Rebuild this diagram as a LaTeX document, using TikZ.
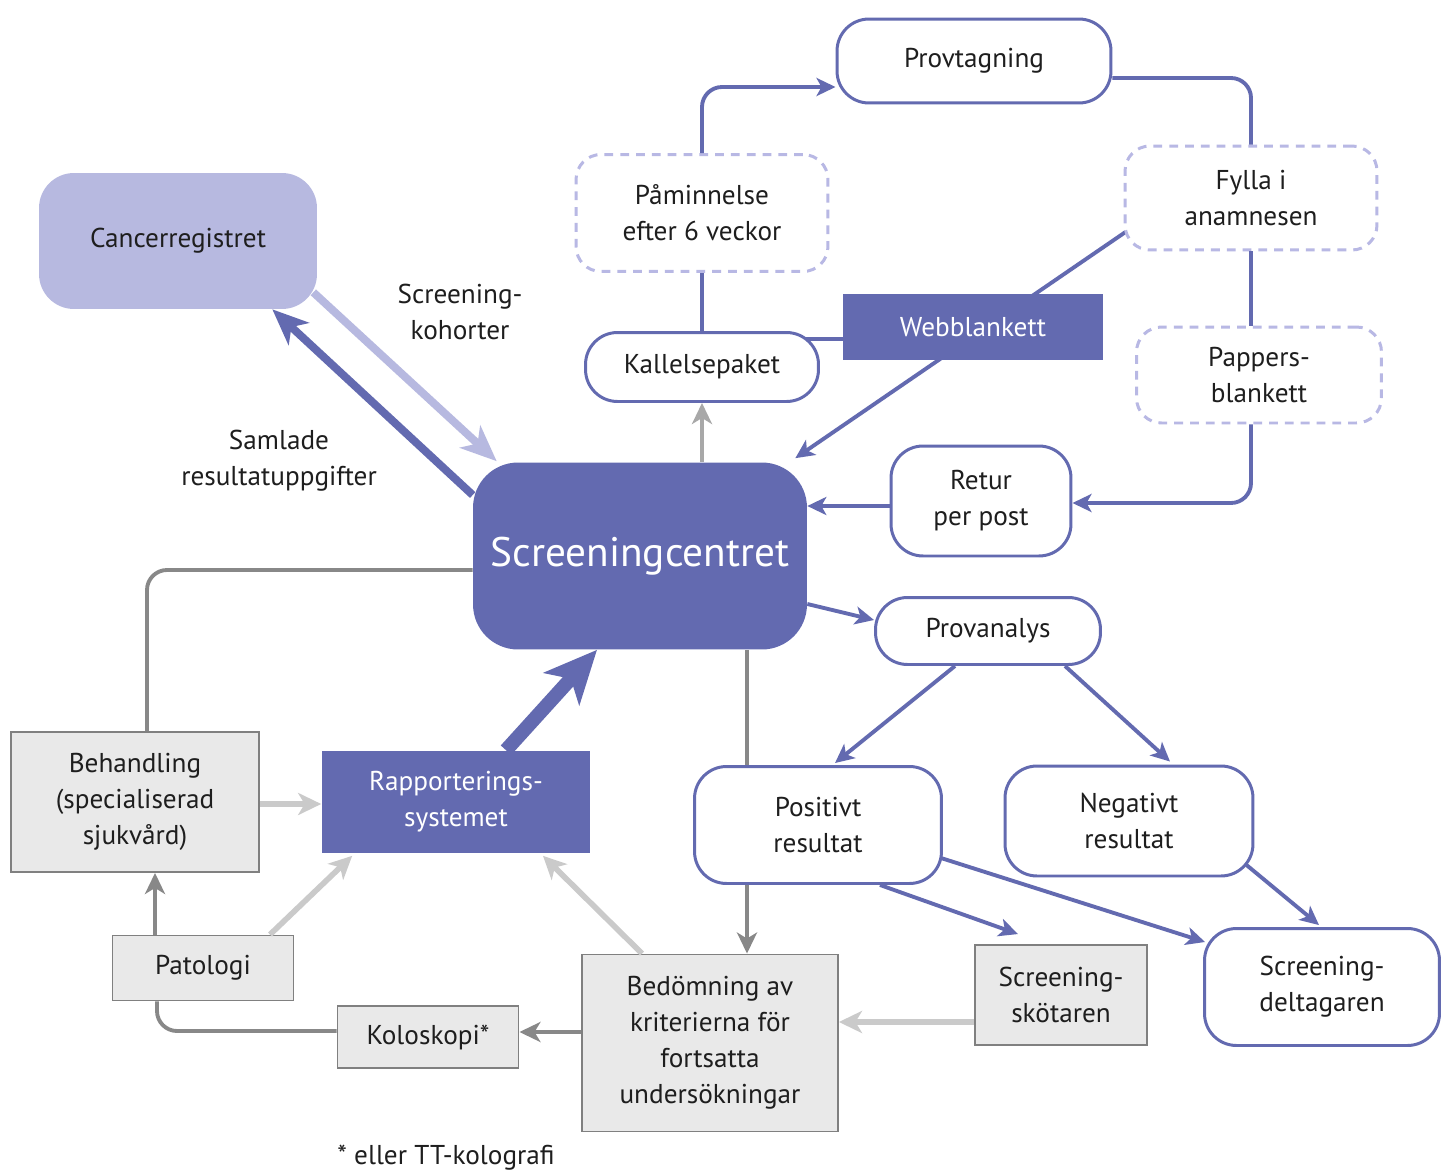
\documentclass[tikz,border=0pt]{standalone}
\usepackage{fontspec}
\setmainfont{PT Sans}
\usetikzlibrary{arrows.meta, positioning, backgrounds, calc}
\definecolor{scblue}{RGB}{99,106,176}
\definecolor{lav}{RGB}{183,185,224}
\definecolor{dashc}{RGB}{184,184,228}
\definecolor{gfill}{RGB}{233,233,233}
\definecolor{boxgray}{RGB}{128,128,128}
\definecolor{dgray}{RGB}{136,136,136}
\definecolor{mgray}{RGB}{168,168,168}
\definecolor{lgray}{RGB}{202,202,202}
\definecolor{txt}{RGB}{30,30,30}

\begin{document}
\begin{tikzpicture}[x=0.02cm, y=-0.02cm,
  every node/.style={font=\fontsize{15.5}{20.5}\selectfont, text=txt, align=center, inner sep=0pt},
  rbox/.style={draw=scblue, line width=1.7pt, fill=white, rounded corners=0.64cm},
  dbox/.style={draw=dashc, line width=1.7pt, dash pattern=on 5pt off 4pt, fill=white, rounded corners=0.5cm},
  bbox/.style={fill=scblue, text=white},
  gbox/.style={draw=boxgray, line width=1.1pt, fill=gfill},
  bl/.style={scblue, line width=2.2pt},
  blarr/.style={bl, -{Stealth[length=0.38cm, width=0.36cm, inset=0.1cm]}},
  dline/.style={dgray, line width=2.2pt},
  darr/.style={dline, -{Stealth[length=0.42cm, width=0.4cm, inset=0.12cm]}},
  larr/.style={lgray, line width=3.2pt, -{Stealth[length=0.46cm, width=0.44cm, inset=0.13cm]}}
]
\useasboundingbox (0,0) rectangle (1441,1173);
% Top loop
\node[rbox, minimum width=5.48cm, minimum height=1.68cm](prov) at (974,61){Provtagning};
\node[dbox, minimum width=5.04cm, minimum height=2.34cm](pam) at (702,213){Påminnelse\\efter 6 veckor};
\node[dbox, minimum width=5.04cm, minimum height=2.08cm](fyl) at (1251,198){Fylla i\\anamnesen};
\node[dbox, minimum width=4.9cm, minimum height=1.92cm](pap) at (1259,375){Pappers-\\blankett};
\node[rbox, minimum width=4.66cm, minimum height=1.38cm](kal) at (702,367){Kallelsepaket};
\node[bbox, minimum width=5.2cm, minimum height=1.34cm](web) at (973,327){Webblankett};
\node[rbox, minimum width=3.6cm, minimum height=2.2cm](ret) at (981,501){Retur\\per post};
% Centre and register
\node[fill=lav, rounded corners=0.7cm, minimum width=5.56cm, minimum height=2.72cm](cr) at (178,241){Cancerregistret};
\node[fill=scblue, text=white, rounded corners=0.9cm, minimum width=6.68cm, minimum height=3.74cm,
  font=\fontsize{23.5}{28}\selectfont](sc) at (640,556){Screeningcentret};
\node(koh) at (460,312){Screening-\\kohorter};
\node(sam) at (279,461){Samlade\\resultatuppgifter};
% Results
\node[rbox, minimum width=4.5cm, minimum height=1.34cm](pa) at (988,631){Provanalys};
\node[rbox, minimum width=4.94cm, minimum height=2.34cm](pos) at (818,825){Positivt\\resultat};
\node[rbox, minimum width=4.96cm, minimum height=2.2cm](neg) at (1129,821){Negativt\\resultat};
\node[rbox, minimum width=4.7cm, minimum height=2.34cm](del) at (1322,987){Screening-\\deltagaren};
% Follow-up
\node[gbox, minimum width=3.44cm, minimum height=2cm](sko) at (1061,995){Screening-\\skötaren};
\node[gbox, minimum width=5.12cm, minimum height=3.54cm](bed) at (710,1043){Bedömning av\\kriterierna för\\fortsatta\\undersökningar};
\node[gbox, minimum width=3.62cm, minimum height=1.24cm](kol) at (428,1037){Koloskopi*};
\node[gbox, minimum width=3.62cm, minimum height=1.3cm](pat) at (203,968){Patologi};
\node[gbox, minimum width=4.96cm, minimum height=2.8cm](beh) at (135,802){Behandling\\(specialiserad\\sjukvård)};
\node[bbox, minimum width=5.38cm, minimum height=2.06cm](rap) at (456,802){Rapporterings-\\systemet};
\node(fot) at (446,1158){* eller TT-kolografi};
% Arrows
\begin{scope}[on background layer]
\fill[white](0,0) rectangle (1441,1173);
\draw[blarr]($(fyl.west)+(2,34)$)--($(sc.north east)+(-12,-4)$);
\draw[bl]($(web.west)+(0,12)$)--($(kal.east)+(-30,-28)$);
\draw[darr]($(sc.south)+(107,0)$)--($(bed.north)+(37,0)$);
\end{scope}
\draw[bl](kal.north)--(pam.south);
\draw[blarr, rounded corners=0.4cm](pam.north)|-($(prov.west)+(0,26)$);
\draw[bl, rounded corners=0.4cm]($(prov.east)+(0,17)$)-|(fyl.north);
\draw[bl](fyl.south)--(fyl.south |- pap.north);
\draw[blarr, rounded corners=0.4cm](fyl.south |- pap.south)|-($(ret.east)+(0,2)$);
\draw[darr, mgray](kal.south |- sc.north)--(kal.south);
\draw[blarr]($(ret.west)+(0,5)$)--($(sc.east)+(0,-50)$);
\draw[blarr]($(sc.east)+(0,48)$)--($(pa.west)+(0,-11)$);
\draw[blarr]($(pa.south)+(-33,0)$)--($(pos.north)+(17,-2)$);
\draw[blarr]($(pa.south)+(77,0)$)--($(neg.north)+(41,-3)$);
\draw[blarr]($(pos.south)+(62,0)$)--($(sko.north)+(-43,-10)$);
\draw[blarr]($(pos.east)+(-2,33)$)--($(del.west)+(2,-45)$);
\draw[blarr]($(neg.east)+(-8,44)$)--($(del.north)+(-3,-2)$);
\draw[scblue, line width=4.5pt, -{Stealth[length=0.72cm, width=0.6cm, inset=0.2cm]}]($(sc.west)+(0,-61)$)--($(cr.south east)+(-45,0)$);
\draw[lav, line width=4.5pt, -{Stealth[length=0.72cm, width=0.6cm, inset=0.2cm]}]($(cr.south east)+(-4,-17)$)--($(sc.north west)+(24,-1)$);
\draw[scblue, line width=8pt, -{Stealth[length=1.05cm, width=0.95cm, inset=0.27cm]}]($(rap.north)+(50,0)$)--($(sc.south)+(-43,0)$);
\draw[dline, rounded corners=0.4cm]($(sc.west)+(0,14)$)-|($(beh.north)+(12,0)$);
\draw[darr]($(pat.north)+(-48,0)$)--($(beh.south)+(20,0)$);
\draw[dline, rounded corners=0.4cm]($(kol.west)+(0,-6)$)-|($(pat.south)+(-46,0)$);
\draw[darr]($(bed.west)+(0,-11)$)--($(kol.east)+(0,-5)$);
\draw[larr]($(beh.east)+(0,2)$)--($(rap.west)+(0,2)$);
\draw[larr]($(pat.north)+(67,0)$)--($(rap.south west)+(31,2)$);
\draw[larr]($(bed.north)+(-68,0)$)--($(rap.south)+(87,2)$);
\draw[larr]($(sko.west)+(0,27)$)--($(bed.east)+(0,-21)$);
\end{tikzpicture}
\end{document}
